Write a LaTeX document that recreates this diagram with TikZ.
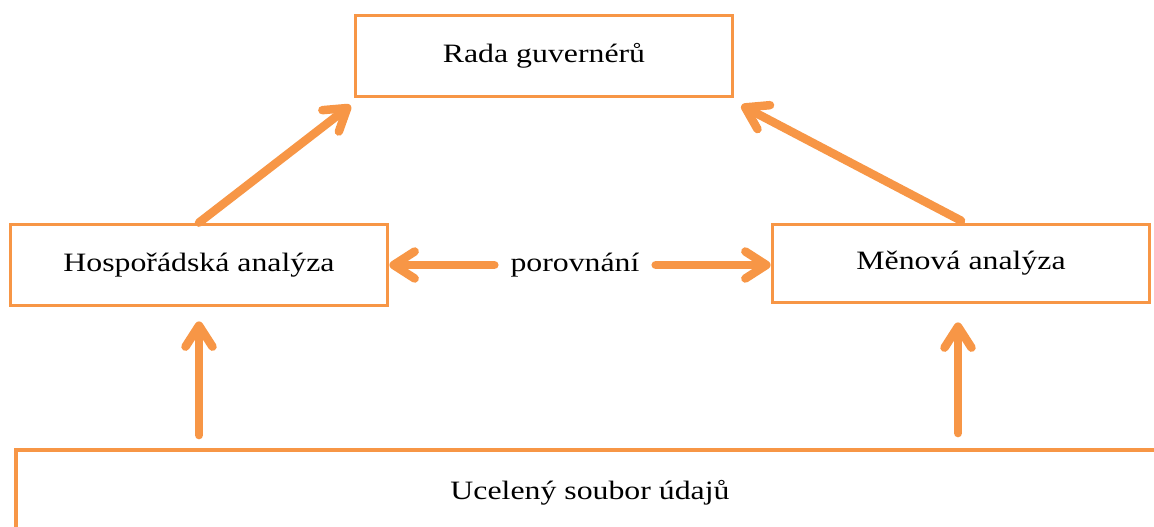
\documentclass[tikz,border=0pt]{standalone}
\usepackage{fontspec}
\setmainfont[FakeStretch=1.2]{Liberation Serif}
\usetikzlibrary{arrows.meta,calc}
\definecolor{boxorange}{HTML}{F79646}
\begin{document}
\begin{tikzpicture}[x=1pt, y=-1pt, every node/.style={rectangle}, text centered,
	box/.style={draw=boxorange, line width=3.8pt, font=\fontsize{26.5}{31}\selectfont},
	link/.style={draw=boxorange, line width=8.5pt, line cap=round, -{Straight Barb[length=21pt,width=27pt,round]}}]
	\useasboundingbox (0,0) rectangle (1154,527);
	\node[box, minimum width=377pt, minimum height=81pt] (board) at (544,56) {Rada guvernérů};
	\node[box, minimum width=377pt, minimum height=81pt] (economic) at (199,265) {Hospořádská analýza};
	\node[box, minimum width=377pt, minimum height=78pt] (monetary) at (961,263.5) {Měnová analýza};
	\node[box, minimum width=1148pt, minimum height=86pt] (data) at (590,493) {Ucelený soubor údajů};
	\node[font=\fontsize{26.5}{31}\selectfont, inner xsep=16pt] (compare) at (575,265) {porovnání};
	\draw[link] (economic.north) -- ([xshift=-3pt,yshift=-7pt]board.south west);
	\draw[link] ([yshift=2pt]monetary.north) -- ([xshift=7pt,yshift=-7pt]board.south east);
	\draw[link] (compare.west) -- (compare.west -| economic.east);
	\draw[link] (compare.east) -- (compare.east -| monetary.west);
	\draw[link, shorten <=13pt, shorten >=14pt] (economic.south |- data.north) -- (economic.south);
	\draw[link, shorten <=15pt, shorten >=18pt] ([xshift=-3pt]monetary.south |- data.north) -- ([xshift=-3pt]monetary.south);
\end{tikzpicture}
\end{document}
